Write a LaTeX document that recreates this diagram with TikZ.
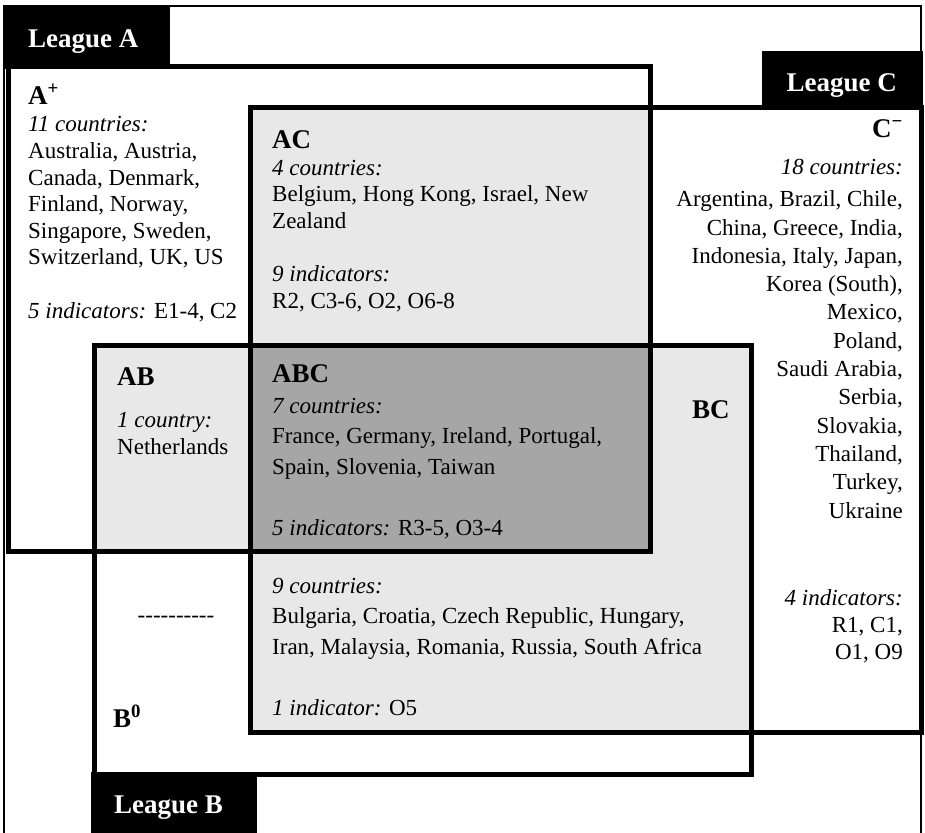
\documentclass[tikz,border=0pt]{standalone}
\usepackage{fontspec}
\setmainfont{Liberation Serif}
\usetikzlibrary{positioning}
\definecolor{pairgrey}{HTML}{E8E8E8}
\definecolor{coregrey}{HTML}{A6A6A6}

\begin{document}
\begin{tikzpicture}[x=1pt, y=-1pt,
        league/.style={draw, line width=5pt},
        tab/.style={fill=black},
        tablabel/.style={text=white, inner sep=0pt, font=\fontsize{27}{30}\selectfont\bfseries},
        head/.style={inner sep=0pt, font=\fontsize{27}{30}\selectfont\bfseries},
        body/.style={inner sep=0pt, align=left, font=\fontsize{23}{26.6}\selectfont},
        wide/.style={body, font=\fontsize{23}{30.5}\selectfont}]

        \useasboundingbox (0,0) rectangle (925,832);

        % Shaded overlaps
        \fill [pairgrey] (250,108) rectangle (650,551);
        \fill [pairgrey] (94,345) rectangle (751,551);
        \fill [pairgrey] (250,345) rectangle (751,732);
        \fill [coregrey] (250,345) rectangle (650,551);

        % Frame and leagues
        \draw [line width=1.5pt] (4,6) rectangle (921,840);
        \draw [league] (8,67) rectangle (650,551);
        \draw [league] (94,345) rectangle (751,774);
        \draw [league] (250,108) rectangle (921,732);
        \fill [tab] (4,6) rectangle (170,69);
        \fill [tab] (762,51) rectangle (923,110);
        \fill [tab] (91,772) rectangle (257,840);

        \node [tablabel, anchor=base west] (nameA) at (28,48) {League A};
        \node [tablabel, anchor=base east] (nameC) at (897,92) {League C};
        \node [tablabel, anchor=base west] (nameB) at (114,813) {League B};

        % League A only (nodes sit on their last line)
        \node [head, anchor=base west] (headA) at (28,104) {A\textsuperscript{+}};
        \node [body, anchor=base west] (textA) at (28,318)
            {\textit{11 countries:}\\Australia, Austria,\\Canada, Denmark,\\Finland, Norway,\\Singapore, Sweden,\\Switzerland, UK, US\\[26.6pt]\textit{5 indicators:} E1-4, C2};

        % A and C
        \node [head, anchor=base west] (headAC) at (272,148) {AC};
        \node [body, anchor=base west] (textAC) at (272,308)
            {\textit{4 countries:}\\Belgium, Hong Kong, Israel, New\\Zealand\\[26.6pt]\textit{9 indicators:}\\R2, C3-6, O2, O6-8};

        % A and B
        \node [head, anchor=base west] (headAB) at (117,385) {AB};
        \node [body, anchor=base west] (textAB) at (117,454) {\textit{1 country:}\\Netherlands};

        % A, B and C
        \node [head, anchor=base west] (headABC) at (272,382) {ABC};
        \node [wide, anchor=base west] (textABC) at (272,535)
            {\textit{7 countries:}\\France, Germany, Ireland, Portugal,\\Spain, Slovenia, Taiwan\\[30.5pt]\textit{5 indicators:} R3-5, O3-4};

        % B and C
        \node [head, anchor=base west] (headBC) at (692,418) {BC};
        \node [wide, anchor=base west] (textBC) at (272,715)
            {\textit{9 countries:}\\Bulgaria, Croatia, Czech Republic, Hungary,\\Iran, Malaysia, Romania, Russia, South Africa\\[30.5pt]\textit{1 indicator:} O5};

        % League B only
        \node [body, anchor=base] (textB) at (176,622) {-{}-{}-{}-{}-{}-{}-{}-{}-{}-};
        \node [head, anchor=base west] (headB) at (113,727) {B\textsuperscript{0}};

        % League C only
        \node [head, anchor=base east] (headC) at (903,137) {C\textsuperscript{−}};
        \node [body, align=right, anchor=base east, font=\fontsize{23}{28.3}\selectfont] (textC) at (903,518)
            {\textit{18 countries:}\\[3.7pt]Argentina, Brazil, Chile,\\China, Greece, India,\\Indonesia, Italy, Japan,\\Korea (South),\\Mexico,\\Poland,\\Saudi Arabia,\\Serbia,\\Slovakia,\\Thailand,\\Turkey,\\Ukraine};
        \node [body, align=right, anchor=base east, font=\fontsize{23}{27}\selectfont] (indC) at (903,659)
            {\textit{4 indicators:}\\R1, C1,\\O1, O9};
    \end{tikzpicture}
\end{document}
